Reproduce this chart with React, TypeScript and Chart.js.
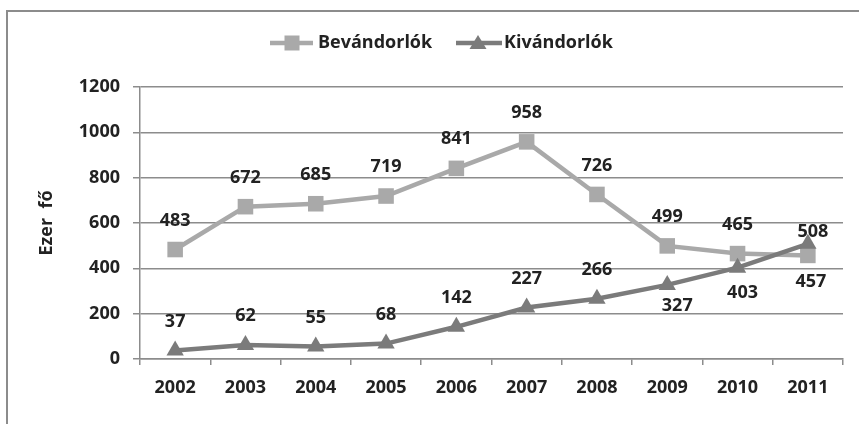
import React, { useEffect, useRef } from "react";
import { Chart, registerables } from "chart.js";

Chart.register(...registerables);

const categories = ["2002", "2003", "2004", "2005", "2006", "2007", "2008", "2009", "2010", "2011"];
const bevandorlok = [483, 672, 685, 719, 841, 958, 726, 499, 465, 457];
const kivandorlok = [37, 62, 55, 68, 142, 227, 266, 327, 403, 508];
const seriesNames = ["Bevándorlók", "Kivándorlók"];
const yTitle = "Ezer fő";

const LIGHT = "#a9a9a9";
const DARK = "#7b7b7b";
const GRID = "#8c8c8c";
const TEXT = "#222222";
const FONT = "'Open Sans', Lato, sans-serif";
const FS = 18;

export default function App() {
  const ref = useRef<HTMLCanvasElement | null>(null);

  useEffect(() => {
    document.body.style.margin = "0";
    const canvas = ref.current;
    if (!canvas) return;

    const decor = {
      id: "decor",
      beforeDraw(chart: any) {
        const ctx = chart.ctx;
        ctx.save();
        ctx.fillStyle = "#ffffff";
        ctx.fillRect(0, 0, chart.width, chart.height);
        ctx.strokeStyle = GRID;
        ctx.lineWidth = 2;
        ctx.beginPath();
        ctx.moveTo(7, chart.height + 5);
        ctx.lineTo(7, 11);
        ctx.lineTo(chart.width + 5, 11);
        ctx.stroke();
        ctx.restore();
      },
      afterDraw(chart: any) {
        const ctx = chart.ctx;
        ctx.save();
        const legendY = 43;
        const items = [
          { name: seriesNames[0], color: LIGHT, x0: 270, x1: 313, mx: 292, tx: 318, shape: "rect" },
          { name: seriesNames[1], color: DARK, x0: 456, x1: 502, mx: 478, tx: 504, shape: "tri" },
        ];
        items.forEach((it) => {
          ctx.strokeStyle = it.color;
          ctx.lineWidth = 4.5;
          ctx.beginPath();
          ctx.moveTo(it.x0, legendY);
          ctx.lineTo(it.x1, legendY);
          ctx.stroke();
          ctx.fillStyle = it.color;
          if (it.shape === "rect") {
            ctx.fillRect(it.mx - 7.5, legendY - 7.5, 15, 15);
          } else {
            ctx.beginPath();
            ctx.moveTo(it.mx, legendY - 8);
            ctx.lineTo(it.mx + 8.5, legendY + 6);
            ctx.lineTo(it.mx - 8.5, legendY + 6);
            ctx.closePath();
            ctx.fill();
          }
          ctx.fillStyle = TEXT;
          ctx.font = `bold ${FS}px ${FONT}`;
          ctx.textAlign = "left";
          ctx.textBaseline = "middle";
          ctx.fillText(it.name, it.tx, legendY);
        });
        ctx.translate(47, (chart.chartArea.top + chart.chartArea.bottom) / 2);
        ctx.rotate(-Math.PI / 2);
        ctx.textAlign = "center";
        ctx.textBaseline = "middle";
        ctx.font = `bold ${FS}px ${FONT}`;
        ctx.fillStyle = TEXT;
        ctx.fillText(yTitle.replace(" ", "  "), 0, 0);
        ctx.restore();
      },
    };

    const labelOffsets: Record<number, Record<number, [number, number]>> = {
      0: { 9: [3, 26] },
      1: { 7: [10, 21], 8: [5, 25], 9: [5, -12] },
    };

    const dataLabels = {
      id: "dataLabels",
      afterDatasetsDraw(chart: any) {
        const ctx = chart.ctx;
        ctx.save();
        ctx.font = `bold ${FS}px ${FONT}`;
        ctx.fillStyle = TEXT;
        ctx.textAlign = "center";
        ctx.textBaseline = "middle";
        chart.data.datasets.forEach((ds: any, di: number) => {
          const meta = chart.getDatasetMeta(di);
          meta.data.forEach((pt: any, i: number) => {
            const off = (labelOffsets[di] && labelOffsets[di][i]) || [0, -29];
            ctx.fillText(String(ds.data[i]), pt.x + off[0], pt.y + off[1]);
          });
        });
        ctx.restore();
      },
    };

    const chart = new Chart(canvas, {
      type: "line",
      data: {
        labels: categories,
        datasets: [
          {
            label: seriesNames[0],
            data: bevandorlok,
            borderColor: LIGHT,
            backgroundColor: LIGHT,
            borderWidth: 4.5,
            pointStyle: "rect",
            pointRadius: 11,
            pointBorderWidth: 0,
            pointBackgroundColor: LIGHT,
            tension: 0,
            order: 2,
          },
          {
            label: seriesNames[1],
            data: kivandorlok,
            borderColor: DARK,
            backgroundColor: DARK,
            borderWidth: 4.5,
            pointStyle: "triangle",
            pointRadius: 10,
            pointBorderWidth: 0,
            pointBackgroundColor: DARK,
            tension: 0,
            order: 1,
          },
        ],
      },
      options: {
        animation: false,
        responsive: false,
        devicePixelRatio: 1,
        layout: { padding: { top: 87, left: 0, right: 16, bottom: 0 } },
        plugins: {
          legend: { display: false },
          tooltip: { enabled: false },
        },
        scales: {
          x: {
            type: "category",
            offset: true,
            grid: {
              offset: true,
              drawOnChartArea: false,
              drawTicks: true,
              tickLength: 6,
              color: GRID,
              lineWidth: 1.5,
            },
            border: { display: true, color: GRID, width: 1.5 },
            ticks: {
              color: TEXT,
              font: { family: FONT, size: FS, weight: "bold" },
              padding: 12,
              maxRotation: 0,
            },
            afterFit(scale: any) {
              scale.height = 65;
            },
          },
          y: {
            min: 0,
            max: 1200,
            ticks: {
              stepSize: 200,
              color: TEXT,
              font: { family: FONT, size: FS, weight: "bold" },
              padding: 13,
              callback: (v: any) => String(v),
            },
            grid: { color: GRID, lineWidth: 1.5, tickLength: 7 },
            border: { display: true, color: GRID, width: 1.5 },
            afterFit(scale: any) {
              scale.width = 140;
            },
          },
        },
      },
      plugins: [decor, dataLabels],
    } as any);

    return () => chart.destroy();
  }, []);

  return (
    <div style={{ width: 859, height: 424 }}>
      <canvas ref={ref} width={859} height={424} style={{ display: "block" }} />
    </div>
  );
}
